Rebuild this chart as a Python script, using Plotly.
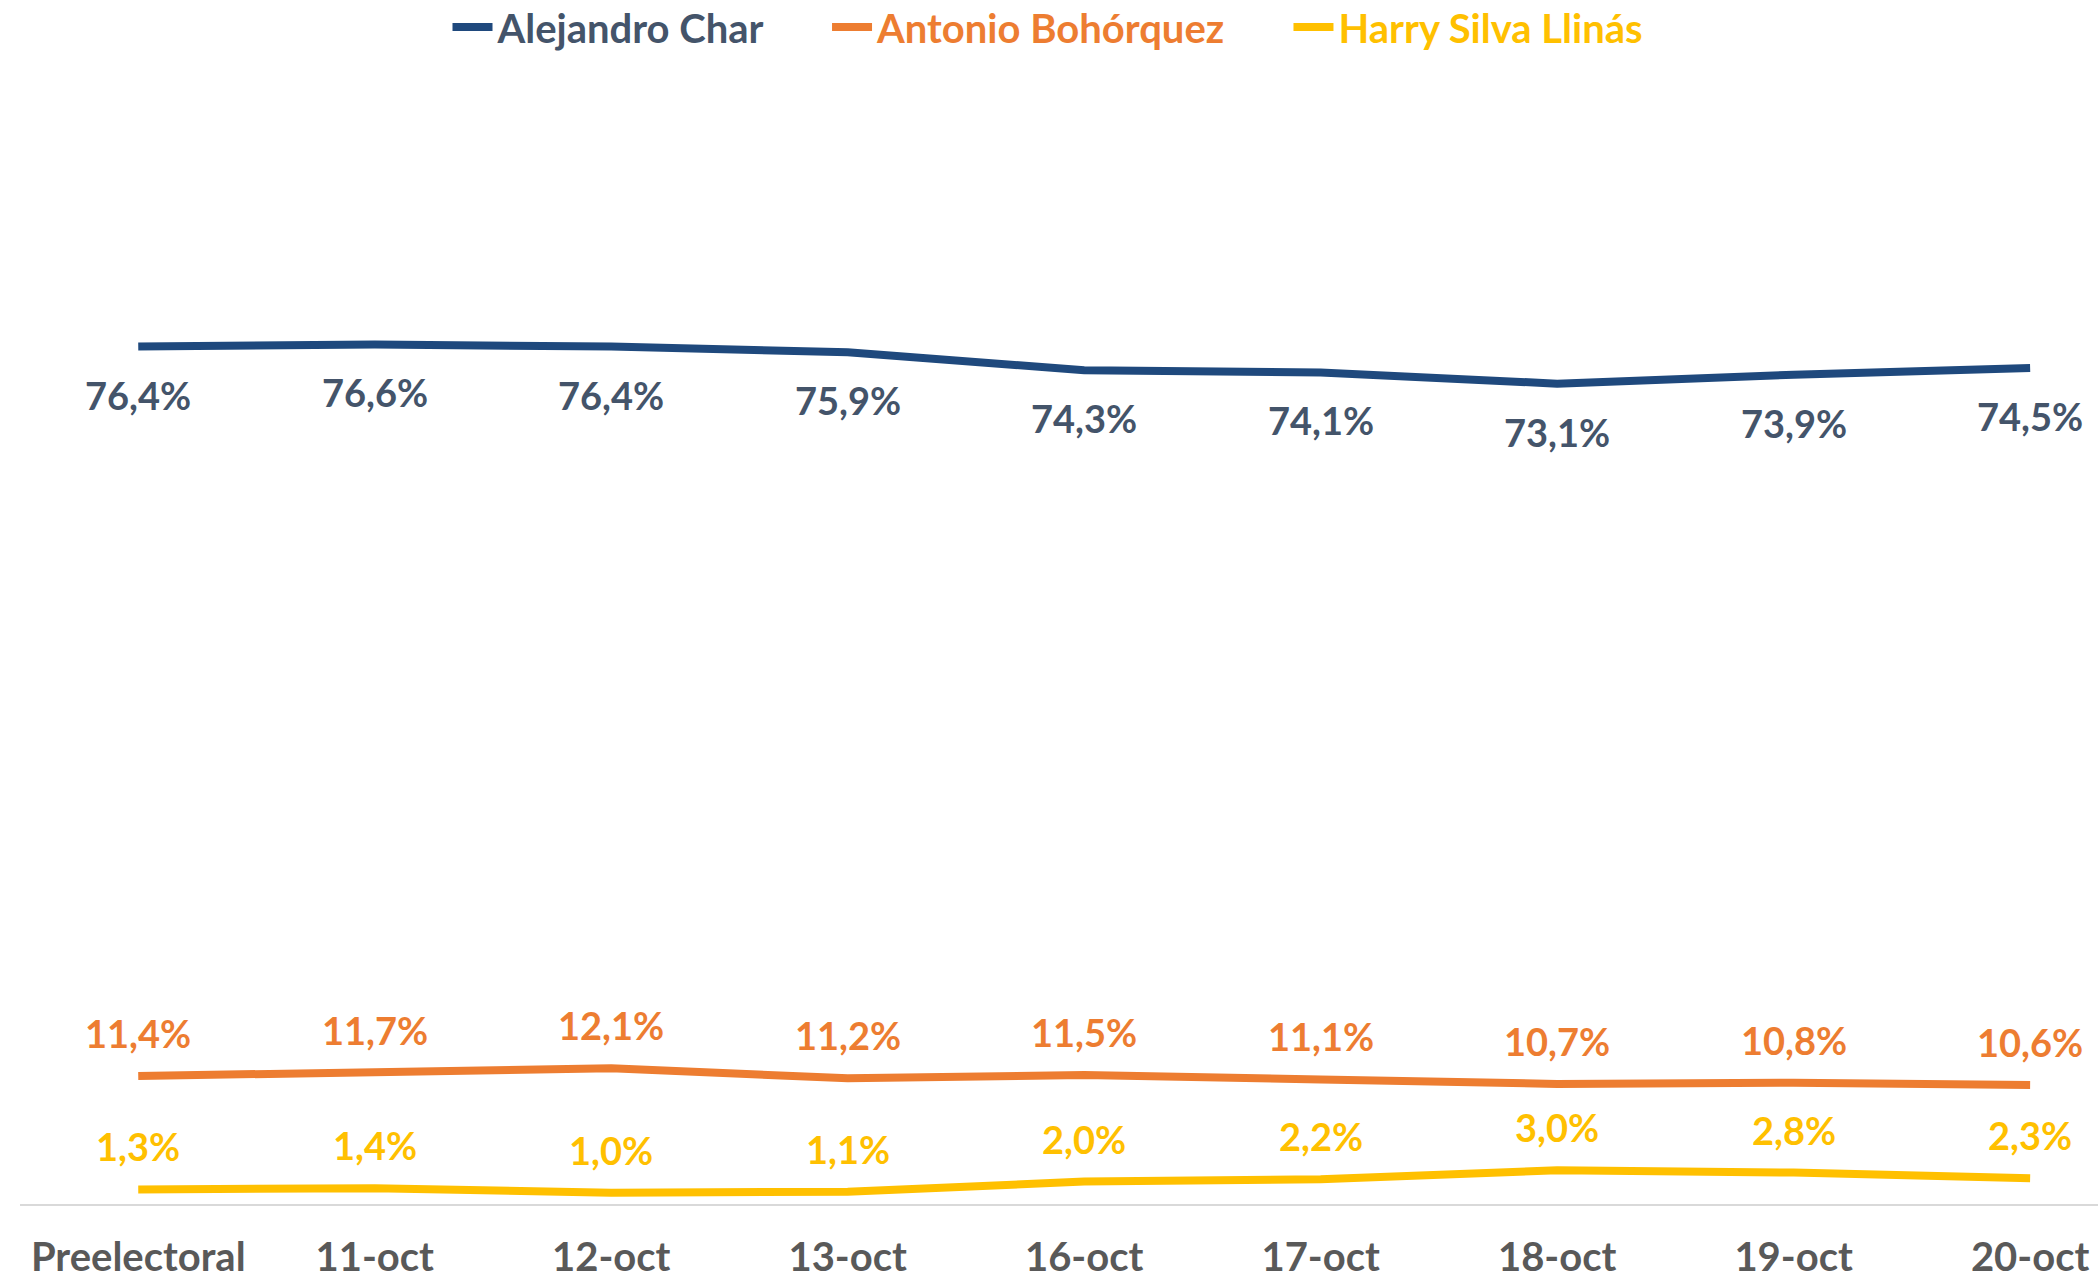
import plotly.graph_objects as go

categories = ["Preelectoral", "11-oct", "12-oct", "13-oct", "16-oct", "17-oct", "18-oct", "19-oct", "20-oct"]
char_vals = [76.4, 76.6, 76.4, 75.9, 74.3, 74.1, 73.1, 73.9, 74.5]
bohorquez_vals = [11.4, 11.7, 12.1, 11.2, 11.5, 11.1, 10.7, 10.8, 10.6]
silva_vals = [1.3, 1.4, 1.0, 1.1, 2.0, 2.2, 3.0, 2.8, 2.3]

series = [
    ("Alejandro Char", char_vals, "#1F497D", "#44546A", -48, 6),
    ("Antonio Bohórquez", bohorquez_vals, "#ED7D31", "#ED7D31", 43, 6),
    ("Harry Silva Llinás", silva_vals, "#FFC000", "#FFC000", 43, 0),
]

FONT = "Lato"
fig = go.Figure()
annotations = []
for name, vals, lc, tc, shift, pad in series:
    fig.add_trace(go.Scatter(
        x=categories, y=vals, mode="lines",
        name=f"<span style='color:{tc}'>{name}</span>" + "&nbsp;" * pad,
        line=dict(color=lc, width=8),
        hoverinfo="skip",
    ))
    for c, v in zip(categories, vals):
        annotations.append(dict(
            x=c, y=v, xref="x", yref="y",
            text=f"{v:.1f}".replace(".", ",") + "%",
            showarrow=False, yshift=shift,
            font=dict(family=FONT, size=38, color=tc, weight="bold"),
        ))

fig.update_layout(
    width=2098, height=1279,
    margin=dict(l=20, r=0, t=194, b=75, autoexpand=False),
    paper_bgcolor="white", plot_bgcolor="white",
    showlegend=True,
    legend=dict(orientation="h", x=1048 / 2098, xanchor="center", xref="container",
                y=1 - 27 / 1279, yref="container", yanchor="middle",
                font=dict(family=FONT, size=40, weight="bold"),
                itemwidth=40, traceorder="normal", tracegroupgap=0),
    annotations=annotations,
    font=dict(family=FONT),
)
fig.update_xaxes(
    type="category", range=[-0.5, 8.287], automargin=False,
    showgrid=False, showline=True, linecolor="#D9D9D9", linewidth=2,
    ticks="", ticklabelstandoff=17,
    tickfont=dict(family=FONT, size=40, color="#595959", weight="bold"),
)
fig.update_yaxes(range=[0, 90], showgrid=False, showticklabels=False,
                 zeroline=False, showline=False, automargin=False)

fig.write_html("out.html", config={"displayModeBar": False},
               post_script="document.body.style.margin='0';")
